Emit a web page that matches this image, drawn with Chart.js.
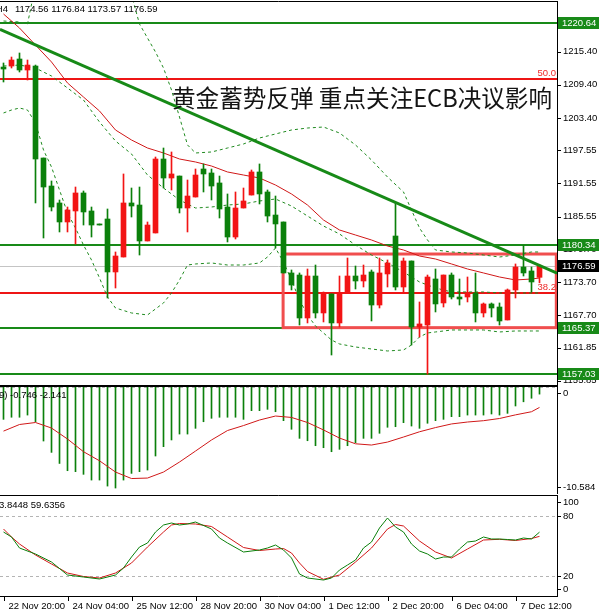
<!DOCTYPE html>
<html><head><meta charset="utf-8">
<script src="https://cdn.jsdelivr.net/npm/chart.js@4.4.1/dist/chart.umd.min.js"></script>
<style>
html,body{margin:0;padding:0;background:#fff;overflow:hidden}
#wrap{position:relative;width:599px;height:616px;background:#fff}
canvas{position:absolute;left:0}
</style></head><body>
<div id="wrap">
<canvas id="cMain" width="599" height="386" style="top:0px;width:599px;height:386px"></canvas>
<canvas id="cMacd" width="599" height="108" style="top:386px;width:599px;height:108px"></canvas>
<canvas id="cStoch" width="599" height="122" style="top:494px;width:599px;height:122px"></canvas>
</div>
<script>
// ===== DATA (XAUUSD H4) =====
const opens = [1212.63,1212.81,1214.08,1212.09,1212.81,1196.16,1191.09,1188.02,1184.58,1186.57,
1189.83,1186.57,1184.22,1185.12,1175.53,1178.24,1188.02,1187.65,1181.14,1182.59,
1195.98,1192.54,1192.90,1187.11,1189.10,1194.17,1193.45,1191.64,1187.29,1181.86,
1187.11,1189.46,1193.63,1190.01,1185.84,1184.58,1175.35,1174.98,1167.20,1174.80,
1168.11,1171.55,1166.30,1171.91,1174.80,1173.90,1175.53,1169.55,1175.17,1182.04,
1172.81,1177.52,1165.57,1165.93,1174.26,1169.92,1174.98,1171.00,1171.00,1171.73,
1168.11,1169.74,1169.19,1166.84,1172.27,1176.43,1175.71,1174.56];
const highs = [1213.36,1214.44,1215.17,1213.90,1212.99,1196.16,1192.00,1188.56,1187.29,1190.91,
1190.19,1187.29,1184.22,1186.93,1179.15,1193.27,1190.73,1190.91,1184.58,1196.34,
1197.97,1197.25,1192.90,1192.18,1194.17,1195.08,1194.17,1192.90,1189.65,1190.01,
1190.73,1193.99,1195.08,1190.37,1189.28,1184.58,1175.89,1175.35,1176.07,1176.79,
1171.91,1171.55,1174.80,1178.06,1176.61,1176.79,1175.89,1178.06,1177.70,1188.02,
1178.06,1177.52,1170.10,1174.98,1176.07,1174.98,1175.35,1174.26,1174.62,1175.35,
1169.92,1169.92,1169.92,1172.45,1176.98,1180.34,1176.43,1176.84];
const lows = [1209.92,1212.45,1211.73,1210.28,1188.02,1181.68,1186.57,1182.77,1182.77,1180.60,
1184.03,1181.86,1184.03,1170.82,1172.63,1178.24,1185.48,1178.60,1181.14,1182.59,
1190.73,1190.37,1186.21,1182.77,1189.10,1190.01,1188.56,1185.30,1180.96,1181.50,
1187.11,1189.46,1187.84,1184.58,1179.87,1175.35,1172.27,1165.93,1166.30,1167.20,
1166.48,1160.50,1165.57,1171.91,1172.45,1172.81,1166.66,1169.01,1172.81,1172.27,
1171.73,1162.31,1163.76,1157.03,1168.29,1169.19,1170.64,1169.55,1170.10,1166.48,
1167.38,1167.38,1165.93,1166.84,1170.82,1174.80,1171.91,1173.57];
const closes = [1212.27,1213.90,1212.09,1212.99,1195.98,1190.91,1187.29,1184.58,1186.75,1189.83,
1186.39,1184.03,1184.03,1175.53,1178.42,1188.02,1187.47,1181.14,1184.03,1195.98,
1192.54,1193.27,1187.11,1189.28,1193.08,1193.27,1191.09,1186.93,1181.86,1187.11,
1188.38,1193.63,1189.65,1185.66,1184.22,1175.35,1173.17,1167.20,1174.80,1168.11,
1171.73,1166.30,1171.55,1174.80,1173.90,1174.98,1169.55,1175.35,1177.16,1172.81,
1177.52,1165.57,1166.12,1174.62,1169.74,1174.98,1171.00,1170.64,1171.73,1168.11,
1169.74,1169.01,1166.66,1172.27,1176.43,1175.35,1173.72,1176.59];

// moving average (red)
const maBars = [0,2,4,6,8,10,12,14,16,18,20,22,24,26,28,30,32,34,36,38,40,42,44,46,48,50,52,54,56,58,60,62,64,66,67];
const maValues = [1222.23,1219.69,1216.61,1213.54,1209.74,1207.20,1204.67,1201.23,1199.42,1197.97,1197.07,1195.98,1195.44,1194.71,1193.63,1193.08,1192.54,1191.27,1189.65,1187.65,1184.94,1183.13,1182.22,1181.32,1180.23,1179.51,1178.42,1177.88,1176.98,1176.07,1175.35,1174.62,1174.08,1174.26,1174.44];

// Bollinger bands (dashed)
const bbMidBars = [0,2,4,6,8,10,12,14,16,18,20,22,24,26,28,30,32,34,36,38,40,42,44,46,48,50,52,54,56,58,60,62,64,66,67];
const bbMidValues = [1212.81,1212.99,1212.45,1211.00,1208.83,1206.66,1202.68,1199.24,1196.89,1193.08,1190.73,1188.56,1187.11,1187.29,1187.65,1187.84,1188.38,1188.74,1187.47,1185.66,1183.85,1182.41,1180.41,1178.60,1177.16,1175.53,1173.72,1172.63,1171.91,1171.91,1171.91,1171.73,1171.73,1171.73,1171.73];
const bbUpBars = [0,2,3,4,6,8,10,12,14,16,17,18,19,20,21,22,23,24,26,28,30,32,34,36,38,40,42,44,46,48,50,51,52,53,54,56,58,60,62,64,66,67];
const bbUpValues = [1220.96,1220.78,1220.42,1227.48,1233.81,1237.43,1239.24,1238.34,1233.81,1225.67,1220.42,1217.88,1215.35,1212.45,1208.47,1203.58,1198.52,1197.07,1197.25,1197.97,1198.70,1199.78,1200.51,1201.23,1201.59,1201.77,1200.69,1198.52,1195.80,1192.72,1190.01,1186.75,1183.49,1181.32,1179.51,1179.15,1178.97,1178.60,1178.24,1178.60,1179.15,1179.15];
const bbLowBars = [0,1,2,3,4,5,6,7,8,9,10,11,12,13,14,16,18,20,21,22,23,24,26,28,30,32,33,34,35,36,37,38,39,40,41,42,44,46,48,50,51,52,53,54,56,58,60,62,64,66,67];
const bbLowValues = [1204.31,1204.85,1205.21,1204.85,1202.49,1197.61,1194.53,1190.37,1186.21,1183.49,1180.41,1177.70,1174.44,1171.00,1169.01,1168.11,1167.75,1169.92,1171.73,1174.08,1176.79,1176.98,1177.16,1176.79,1176.79,1177.16,1178.24,1179.87,1177.34,1174.08,1170.46,1167.75,1165.75,1164.49,1163.22,1162.50,1161.95,1161.59,1161.23,1161.41,1162.31,1163.76,1164.49,1164.67,1165.03,1165.03,1165.03,1164.67,1164.85,1164.85,1164.85];

// trend line (two anchor points, bar index / price)
const trendBars = [-0.44, 69.19];
const trendPrices = [1219.45, 1175.30];

// horizontal levels
const greenLevels = [1220.64, 1180.34, 1165.37, 1157.03];
const fibLevels = [1210.46, 1171.67];
const fibLabels = ['50.0', '38.2'];
const boxBars = [34.95, 69.1];
const boxPrices = [1178.78, 1165.45];

const priceTicks = [1215.40,1209.40,1203.40,1197.55,1191.55,1185.55,1179.70,1173.70,1167.70,1161.85,1155.85];

// MACD
const macdHist = [-3.39,-3.17,-3.17,-2.94,-3.64,-5.66,-6.85,-8.01,-8.77,-8.87,
-9.15,-9.75,-9.75,-10.38,-10.584,-9.75,-9.05,-8.87,-8.70,-7.23,
-6.25,-5.55,-4.93,-4.93,-4.33,-3.64,-3.28,-3.17,-3.17,-3.17,
-3.39,-2.48,-2.48,-2.34,-2.59,-3.53,-4.43,-5.38,-5.63,-6.15,
-6.36,-6.78,-6.53,-6.15,-5.83,-5.38,-5.38,-4.85,-4.22,-4.16,
-3.74,-4.09,-4.33,-3.80,-3.53,-3.39,-3.11,-3.11,-2.94,-2.94,
-2.94,-2.83,-2.94,-2.76,-1.99,-1.55,-1.18,-0.746];
const macdSigBars = [0,2,4,6,8,10,12,14,16,18,20,22,24,26,28,30,32,34,36,38,40,42,44,46,48,50,52,54,56,58,60,62,64,66,67];
const macdSigValues = [-4.62,-3.93,-3.72,-4.30,-5.45,-6.78,-7.73,-8.91,-9.59,-9.54,-8.91,-7.86,-6.71,-5.55,-4.56,-4.04,-3.46,-3.04,-3.19,-3.72,-4.50,-5.35,-5.95,-6.08,-5.77,-5.24,-4.69,-4.25,-3.87,-3.67,-3.53,-3.30,-2.92,-2.59,-2.141];
const macdTicks = [0, -10.584];

// Stochastic
const stochKBars = [0,1,2,4,6,8,10,12,14,15,16,17,18,19,20,21,22,23,24,26,27,28,30,32,33,34,35,36,37,38,40,41,42,43,44,45,46,47,48,49,50,51,52,53,54,55,56,57,58,59,60,61,62,63,64,65,66,67];
const stochKValues = [64,59,48,42,34,21,19,17,21,28,39,49,53,64,71,73,71,72,74,67,58,53,44,46,48,51,46,38,22,18,16,18,26,31,36,48,54,68,78,69,64,52,45,42,37,39,39,47,54,55,59,57,57,56.5,56,58,57,63.8448];
const stochDBars = [0,1,2,4,6,8,10,12,14,16,18,20,21,22,24,26,28,30,32,34,35,36,37,38,40,42,44,46,48,49,50,52,54,56,58,60,62,64,66,67];
const stochDValues = [67,59,52,41,32,23,19.5,18,23,33,49,64,71,72.5,72,69.5,59,48.5,45.5,47,47.5,43,33,24.5,16.7,21,34,48,67,71.5,70,55,44,38,47,56,56.7,55.5,57.5,59.6356];
const stochTicks = [100, 80, 20, 0];
const stochLevels = [80, 20];

// time axis
const timeBars = [0,8,16,24,32,40,48,56,64];
const timeLabels = ['22 Nov 20:00','24 Nov 04:00','25 Nov 12:00','28 Nov 20:00','30 Nov 04:00','1 Dec 12:00','2 Dec 20:00','6 Dec 04:00','7 Dec 12:00'];

const titleText = '黄金蓄势反弹 重点关注ECB决议影响';
const ohlcText = '1174.56 1176.84 1173.57 1176.59';

// ===== STYLE =====
const UI = '"Liberation Sans", "DejaVu Sans", sans-serif';
const FS = 9.5;
const UP = '#f21414', DOWN = '#0b800b';
const LVL_GREEN = '#188a18', LVL_RED = '#ee1515';
const X_MIN = -0.4375, X_MAX = 69.1875;

const pts = (xs, ys) => xs.map((b, k) => ({x: b, y: ys[k]}));
const isUp = i => closes[i] > opens[i];

function xScale() { return {type: 'linear', display: false, min: X_MIN, max: X_MAX, offset: false}; }
function yScale(min, max) {
  return {position: 'right', min, max, grid: {display: false}, border: {display: false},
          ticks: {display: false}, afterFit(s) { s.width = 42; }};
}
function frame(ctx, a) {
  ctx.save();
  ctx.strokeStyle = '#000'; ctx.lineWidth = 1;
  ctx.beginPath();
  ctx.moveTo(0, a.top - 0.5); ctx.lineTo(a.right + 0.5, a.top - 0.5);
  ctx.moveTo(0, a.bottom + 0.5); ctx.lineTo(a.right + 0.5, a.bottom + 0.5);
  ctx.moveTo(a.right + 0.5, a.top - 1); ctx.lineTo(a.right + 0.5, a.bottom + 1);
  ctx.stroke();
  ctx.restore();
}
function axisLabel(ctx, a, yPix, text) {
  ctx.strokeStyle = '#000'; ctx.lineWidth = 1;
  const p = Math.round(yPix) + 0.5;
  ctx.beginPath(); ctx.moveTo(a.right, p); ctx.lineTo(a.right + 4, p); ctx.stroke();
  ctx.fillStyle = '#000'; ctx.font = FS + 'px ' + UI;
  ctx.textAlign = 'left'; ctx.textBaseline = 'middle';
  ctx.fillText(text, a.right + 6, yPix);
}
function hline(ctx, a, p, col, w, dash) {
  const y = w % 2 ? Math.round(p) + 0.5 : Math.round(p);
  ctx.save();
  ctx.strokeStyle = col; ctx.lineWidth = w; ctx.setLineDash(dash || []);
  ctx.beginPath(); ctx.moveTo(a.left, y); ctx.lineTo(a.right, y); ctx.stroke();
  ctx.restore();
}
const base = {responsive: false, animation: false, events: [],
  plugins: {legend: {display: false}, tooltip: {enabled: false}}};

// ===== MAIN PRICE CHART =====
const mainDecor = {
  id: 'mainDecor',
  beforeDatasetsDraw(c) {
    const {ctx, chartArea: a, scales: {x, y}} = c;
    ctx.save();
    ctx.beginPath(); ctx.rect(a.left, a.top, a.right - a.left, a.bottom - a.top); ctx.clip();
    hline(ctx, a, y.getPixelForValue(closes[closes.length - 1]), '#c4c4c4', 1);
    greenLevels.forEach(v => hline(ctx, a, y.getPixelForValue(v), LVL_GREEN, 2));
    fibLevels.forEach(v => hline(ctx, a, y.getPixelForValue(v), LVL_RED, 2));
    const x0 = x.getPixelForValue(boxBars[0]), x1 = x.getPixelForValue(boxBars[1]);
    const y0 = y.getPixelForValue(boxPrices[0]), y1 = y.getPixelForValue(boxPrices[1]);
    ctx.strokeStyle = '#f04e4e'; ctx.lineWidth = 3;
    ctx.strokeRect(x0, y0, x1 - x0, y1 - y0);
    ctx.restore();
  },
  afterDraw(c) {
    const {ctx, chartArea: a, scales: {y}} = c;
    ctx.save();
    frame(ctx, a);
    priceTicks.forEach(v => axisLabel(ctx, a, y.getPixelForValue(v), v.toFixed(2)));
    const box = (v, bg) => {
      const p = Math.round(y.getPixelForValue(v));
      ctx.fillStyle = bg; ctx.fillRect(a.right + 1, p - 6, 599 - a.right - 1, 12);
      ctx.fillStyle = '#fff'; ctx.font = FS + 'px ' + UI;
      ctx.textAlign = 'left'; ctx.textBaseline = 'middle';
      ctx.fillText(v.toFixed(2), a.right + 5, p + 0.5);
    };
    greenLevels.forEach(v => box(v, LVL_GREEN));
    box(closes[closes.length - 1], '#000');
    // fib labels
    ctx.fillStyle = '#ee2a2a'; ctx.font = FS + 'px ' + UI;
    ctx.textAlign = 'right'; ctx.textBaseline = 'alphabetic';
    fibLevels.forEach((v, k) => ctx.fillText(fibLabels[k], a.right - 1, y.getPixelForValue(v) - 3));
    // header
    ctx.fillStyle = '#000'; ctx.textAlign = 'right'; ctx.textBaseline = 'middle';
    ctx.fillText('H4', 8, 9);
    ctx.textAlign = 'left';
    ctx.fillText(ohlcText, 15, 9);
    // title
    ctx.fillStyle = '#141414';
    ctx.font = '23.6px "Noto Sans CJK SC", sans-serif';
    ctx.textAlign = 'left'; ctx.textBaseline = 'middle';
    ctx.fillText(titleText, 172, 98);
    ctx.restore();
  }
};

const candleColor = ctx => isUp(ctx.dataIndex) ? UP : DOWN;

new Chart(document.getElementById('cMain'), {
  type: 'bar',
  data: {
    datasets: [
      {type: 'line', data: pts(trendBars, trendPrices), borderColor: '#178a17', borderWidth: 3, pointRadius: 0},
      {type: 'bar', data: opens.map((o, i) => ({x: i, y: [o, closes[i]]})), backgroundColor: candleColor,
       barThickness: 5, minBarLength: 1, grouped: false, borderWidth: 0},
      {type: 'bar', data: lows.map((l, i) => ({x: i, y: [l, highs[i]]})), backgroundColor: candleColor,
       barThickness: 1, minBarLength: 1, grouped: false, borderWidth: 0},
      {type: 'line', data: pts(maBars, maValues), borderColor: '#d01818', borderWidth: 1, pointRadius: 0},
      {type: 'line', data: pts(bbUpBars, bbUpValues), borderColor: '#1f8a1f', borderWidth: 1, borderDash: [3, 3], pointRadius: 0},
      {type: 'line', data: pts(bbMidBars, bbMidValues), borderColor: '#1f8a1f', borderWidth: 1, borderDash: [3, 3], pointRadius: 0},
      {type: 'line', data: pts(bbLowBars, bbLowValues), borderColor: '#1f8a1f', borderWidth: 1, borderDash: [3, 3], pointRadius: 0}
    ]
  },
  options: Object.assign({}, base, {
    layout: {padding: {top: 2, bottom: 1, left: 0, right: 0}},
    scales: {x: xScale(), y: yScale(1155.07, 1224.40)}
  }),
  plugins: [mainDecor]
});

// ===== MACD =====
const macdDecor = {
  id: 'macdDecor',
  beforeDatasetsDraw(c) {
    const {ctx, chartArea: a, scales: {y}} = c;
    hline(ctx, a, y.getPixelForValue(0), '#b4b4b4', 1, [3, 3]);
  },
  afterDraw(c) {
    const {ctx, chartArea: a, scales: {y}} = c;
    ctx.save();
    frame(ctx, a);
    macdTicks.forEach(v => {
      const p = Math.min(Math.max(y.getPixelForValue(v), a.top + 6), a.bottom - 7);
      axisLabel(ctx, a, p, String(v));
    });
    ctx.fillStyle = '#000'; ctx.font = FS + 'px ' + UI;
    ctx.textAlign = 'left'; ctx.textBaseline = 'middle';
    ctx.fillText('9) ' + macdHist[macdHist.length - 1] + ' ' + macdSigValues[macdSigValues.length - 1], -1, 9);
    ctx.restore();
  }
};
new Chart(document.getElementById('cMacd'), {
  type: 'bar',
  data: {
    datasets: [
      {type: 'line', data: pts(macdSigBars, macdSigValues), borderColor: '#d01818', borderWidth: 1, pointRadius: 0},
      {type: 'bar', data: macdHist.map((v, i) => ({x: i, y: v})), backgroundColor: '#0b800b',
       barThickness: 1, grouped: false, borderWidth: 0}
    ]
  },
  options: Object.assign({}, base, {
    layout: {padding: {top: 1, bottom: 0, left: 0, right: 0}},
    scales: {x: xScale(), y: yScale(-11.21, 0)}
  }),
  plugins: [macdDecor]
});

// ===== STOCHASTIC =====
const stochDecor = {
  id: 'stochDecor',
  beforeDatasetsDraw(c) {
    const {ctx, chartArea: a, scales: {y}} = c;
    stochLevels.forEach(v => hline(ctx, a, y.getPixelForValue(v), '#b4b4b4', 1, [3, 3]));
  },
  afterDraw(c) {
    const {ctx, chartArea: a, scales: {x, y}} = c;
    ctx.save();
    frame(ctx, a);
    stochTicks.forEach(v => {
      const p = Math.min(Math.max(y.getPixelForValue(v), a.top + 6), a.bottom - 7);
      axisLabel(ctx, a, p, String(v));
    });
    ctx.fillStyle = '#000'; ctx.font = FS + 'px ' + UI;
    ctx.textAlign = 'left'; ctx.textBaseline = 'middle';
    ctx.fillText(stochKValues[stochKValues.length - 1].toFixed(4).slice(1) + ' ' + stochDValues[stochDValues.length - 1].toFixed(4), -1, 11);
    // time axis
    ctx.strokeStyle = '#000'; ctx.lineWidth = 1;
    timeBars.forEach((b, k) => {
      const px = Math.round(x.getPixelForValue(b)) + 0.5;
      ctx.beginPath(); ctx.moveTo(px, a.bottom + 1); ctx.lineTo(px, a.bottom + 5); ctx.stroke();
      ctx.fillStyle = '#000';
      ctx.fillText(timeLabels[k], px + 4, a.bottom + 10);
    });
    ctx.restore();
  }
};
new Chart(document.getElementById('cStoch'), {
  type: 'line',
  data: {
    datasets: [
      {data: pts(stochKBars, stochKValues), borderColor: '#0b800b', borderWidth: 1, pointRadius: 0},
      {data: pts(stochDBars, stochDValues), borderColor: '#d01818', borderWidth: 1, pointRadius: 0}
    ]
  },
  options: Object.assign({}, base, {
    layout: {padding: {top: 2, bottom: 20, left: 0, right: 0}},
    scales: {x: xScale(), y: yScale(0, 100)}
  }),
  plugins: [stochDecor]
});
</script>
</body></html>
